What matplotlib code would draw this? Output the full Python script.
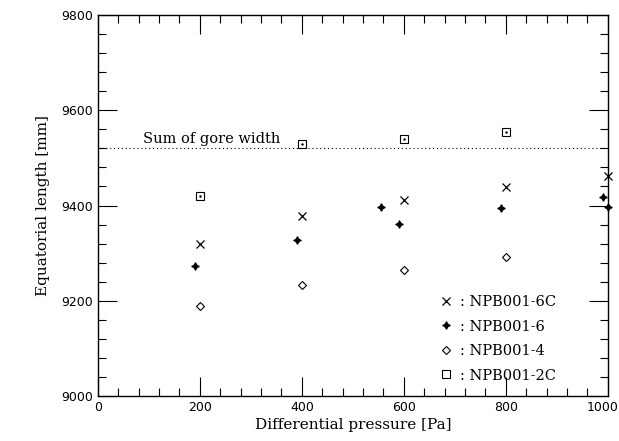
import numpy as np
import matplotlib.pyplot as plt
from matplotlib.ticker import MultipleLocator

# data
p_6c = [200, 400, 600, 800, 1000]
l_6c = [9320, 9377, 9412, 9438, 9462]

p_6 = [190, 390, 555, 590, 790, 990, 1000]
l_6 = [9272, 9328, 9396, 9362, 9395, 9418, 9397]

p_4 = [200, 400, 600, 800]
l_4 = [9190, 9233, 9265, 9292]

p_2c = [200, 400, 600, 800]
l_2c = [9420, 9530, 9540, 9555]

gore_sum = 9520
x_ticks = [0, 200, 400, 600, 800, 1000]

serif = "DejaVu Serif"
plt.rcParams["font.family"] = "DejaVu Sans"

fig = plt.figure(figsize=(6.19, 4.41), dpi=100)
ax = fig.add_axes([0.158, 0.102, 0.824, 0.864])

ax.plot(p_6c, l_6c, ls="none", marker="x", ms=6, mew=0.9, color="black",
        label=": NPB001-6C", clip_on=False)
ax.plot(p_6, l_6, ls="none", marker=(4, 1, 0), ms=5.5, mew=0.8, color="black",
        label=": NPB001-6", clip_on=False)
ax.plot(p_4, l_4, ls="none", marker="D", ms=4.2, mew=0.8, mfc="none", color="black",
        label=": NPB001-4", clip_on=False)
ax.plot(p_2c, l_2c, ls="none", marker="s", ms=6, mew=0.8, mfc="none", color="black",
        label=": NPB001-2C", clip_on=False)
ax.plot(p_2c, l_2c, ls="none", marker=".", ms=1.5, color="black")

ax.axhline(gore_sum, color="black", lw=0.8, ls=(0, (1, 2.5)))
ax.text(88, gore_sum + 12, "Sum of gore width", family=serif, fontsize=10.5)

ax.set_xlim(0, 1000)
ax.set_ylim(9000, 9800)
# last x label is drawn by hand so it stays inside the figure
ax.set_xticks(x_ticks, labels=[str(v) for v in x_ticks[:-1]] + [""])
ax.xaxis.set_minor_locator(MultipleLocator(40))
ax.yaxis.set_major_locator(MultipleLocator(200))
ax.yaxis.set_minor_locator(MultipleLocator(40))
ax.tick_params(which="both", direction="in", top=True, right=True, labelsize=9)
ax.tick_params(which="major", length=14, width=0.8)
ax.tick_params(which="minor", length=6, width=0.8)
for s in ax.spines.values():
    s.set_linewidth(1.0)

ax.annotate(str(x_ticks[-1]), xy=(1, 0), xycoords="axes fraction",
            xytext=(8, -3.5), textcoords="offset points", ha="right", va="top",
            fontsize=9)

ax.set_xlabel("Differential pressure [Pa]", family=serif, fontsize=11, labelpad=3)
ax.set_ylabel("Equatorial length [mm]", family=serif, fontsize=11, labelpad=8)

leg = ax.legend(loc="lower right", bbox_to_anchor=(0.925, 0.001), frameon=False,
                prop={"family": serif, "size": 10.5}, handletextpad=0.5,
                handlelength=1.0, labelspacing=0.72)

fig.savefig("out.png", dpi=100)
